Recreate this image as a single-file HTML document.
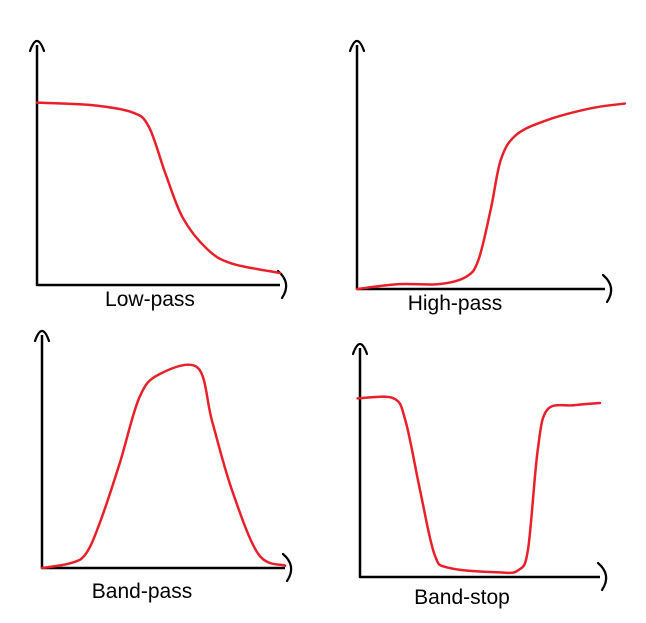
<!DOCTYPE html>
<html><head><meta charset="utf-8">
<style>
html,body{margin:0;padding:0;background:#fff;}
svg{display:block;}
text{font-family:"Liberation Sans",sans-serif;font-size:21px;fill:#000;}
</style></head>
<body>
<svg id="chart" width="646" height="623" viewBox="0 0 646 623"></svg>
<script>
// Normalised data: x in [0,1] along x-axis, y = gain in [0,1]
const lowPassX = [0,0.22,0.39,0.46,0.53,0.6,0.7,0.8,1.0];
const lowPassY = [0.76,0.75,0.72,0.66,0.46,0.28,0.15,0.09,0.05];
const highPassX = [0,0.17,0.33,0.44,0.49,0.54,0.58,0.64,0.76,0.94,1.08];
const highPassY = [0,0.02,0.02,0.05,0.12,0.33,0.53,0.63,0.69,0.74,0.76];
const bandPassX = [0,0.115,0.18,0.24,0.32,0.4,0.48,0.64,0.7,0.78,0.89,1.0];
const bandPassY = [0,0.02,0.06,0.2,0.45,0.73,0.83,0.86,0.63,0.34,0.06,0.01];
const bandStopX = [-0.01,0.14,0.19,0.25,0.31,0.37,0.58,0.66,0.7,0.74,0.78,0.89,1.0];
const bandStopY = [0.78,0.78,0.68,0.38,0.1,0.04,0.02,0.03,0.12,0.55,0.73,0.75,0.76];
const panelTitles = ["Low-pass","High-pass","Band-pass","Band-stop"];

const panels = [
  {ox:37, oy:285, xe:280, yt:45, xs:[lowPassX], ys:[lowPassY], lx:150, ly:306, name:"low-pass"},
  {ox:357,oy:289, xe:605, yt:45, xs:[highPassX], ys:[highPassY], lx:455, ly:310, name:"high-pass"},
  {ox:42, oy:568, xe:285, yt:335, xs:[bandPassX], ys:[bandPassY], lx:142, ly:598, name:"band-pass"},
  {ox:360,oy:577, xe:600, yt:348, xs:[bandStopX], ys:[bandStopY], lx:462, ly:604, name:"band-stop"}
];
const svg = document.getElementById('chart');
const NS = "http://www.w3.org/2000/svg";
function mk(tag, attrs){const e=document.createElementNS(NS,tag);for(const k in attrs)e.setAttribute(k,attrs[k]);svg.appendChild(e);return e;}
panels.forEach((p,i)=>{
  const xScale = v => p.ox + v*(p.xe-p.ox);
  const yScale = v => p.oy - v*(p.oy-p.yt);
  const ax = mk('path',{d:`M${p.ox},${p.yt} L${p.ox},${p.oy} L${p.xe},${p.oy}`,fill:'none',stroke:'#000','stroke-width':2.5,'stroke-linejoin':'round'});
  
  
  const ya = mk('path',{d:`M${p.ox-7},${p.yt+6} Q${p.ox},${p.yt-14} ${p.ox+7},${p.yt+6}`,fill:'none',stroke:'#000','stroke-width':2.2,'stroke-linecap':'round'});
  
  
  const xa = mk('path',{d:`M${p.xe-2},${p.oy-14} Q${p.xe+12},${p.oy-2} ${p.xe+2},${p.oy+13}`,fill:'none',stroke:'#000','stroke-width':2.2,'stroke-linecap':'round'});
  
  
  const X=p.xs[0], Y=p.ys[0];
  const pts = X.map((x,k)=>[xScale(x), yScale(Y[k])]);
  let d = `M${pts[0][0]},${pts[0][1]}`;
  for(let k=0;k<pts.length-1;k++){
    const p0=pts[Math.max(k-1,0)], p1=pts[k], p2=pts[k+1], p3=pts[Math.min(k+2,pts.length-1)];
    const c1x=p1[0]+(p2[0]-p0[0])/6, c1y=p1[1]+(p2[1]-p0[1])/6;
    const c2x=p2[0]-(p3[0]-p1[0])/6, c2y=p2[1]-(p3[1]-p1[1])/6;
    d += ` C${c1x},${c1y} ${c2x},${c2y} ${p2[0]},${p2[1]}`;
  }
  const c = mk('path',{d:d,fill:'none',stroke:'#e8202a','stroke-width':2.5,'stroke-linecap':'round'});
  
  
  const t = mk('text',{x:p.lx,y:p.ly,'text-anchor':'middle'});
  t.textContent = panelTitles[i];
  
  
});
</script>
</body></html>
